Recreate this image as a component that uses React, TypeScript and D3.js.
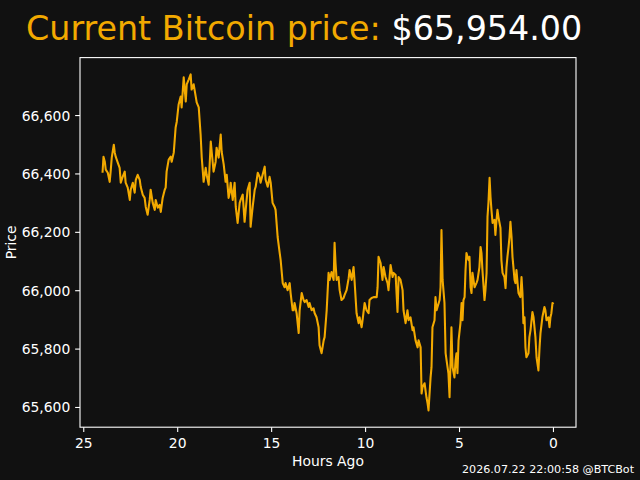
import React from "react";
import * as d3 from "d3";

// Price history over the last 24 hours (hours ago, USD)
const hoursAgo: number[] = [
  24.0, 23.95, 23.88, 23.83, 23.72, 23.62, 23.56, 23.51, 23.4, 23.35,
  23.3, 23.19, 23.09, 23.03, 22.93, 22.82, 22.77, 22.66, 22.55, 22.5,
  22.39, 22.29, 22.23, 22.13, 22.02, 21.97, 21.86, 21.76, 21.7, 21.6,
  21.49, 21.44, 21.33, 21.22, 21.17, 21.06, 20.96, 20.9, 20.8, 20.69,
  20.64, 20.59, 20.48, 20.37, 20.32, 20.21, 20.11, 20.05, 19.95, 19.84,
  19.79, 19.68, 19.57, 19.52, 19.41, 19.31, 19.26, 19.15, 19.04, 18.99,
  18.88, 18.78, 18.72, 18.62, 18.51, 18.46, 18.35, 18.24, 18.19, 18.09,
  17.98, 17.93, 17.82, 17.71, 17.66, 17.55, 17.45, 17.39, 17.29,
  17.23, 17.18, 17.07, 16.97, 16.91, 16.81, 16.7, 16.65, 16.54, 16.44,
  16.38, 16.28, 16.17, 16.12, 16.01, 15.9, 15.85, 15.74, 15.64, 15.59,
  15.48, 15.37, 15.32, 15.21, 15.11, 15.05, 14.95, 14.84, 14.79, 14.68,
  14.57, 14.52, 14.41, 14.31, 14.26, 14.15, 14.04, 13.99, 13.88,
  13.83, 13.78, 13.67, 13.56, 13.51, 13.4, 13.3, 13.24, 13.14, 13.03,
  12.98, 12.87, 12.77, 12.71, 12.61, 12.5, 12.45, 12.34, 12.23, 12.18,
  12.07, 11.97, 11.91, 11.81, 11.7, 11.65, 11.6, 11.54, 11.44, 11.38,
  11.28, 11.17, 11.12, 11.01, 10.9, 10.85, 10.74, 10.64, 10.59,
  10.48, 10.37, 10.32, 10.21, 10.16, 10.05, 9.95, 9.84, 9.79, 9.68,
  9.57, 9.41, 9.36, 9.31, 9.2, 9.1, 9.04, 8.94, 8.83, 8.78,
  8.67, 8.56, 8.51, 8.4, 8.3, 8.24, 8.14, 8.03, 7.98, 7.87,
  7.77, 7.71, 7.61, 7.5, 7.45, 7.34, 7.23, 7.18,
  7.07, 7.02, 6.97, 6.86, 6.76, 6.7, 6.65, 6.54, 6.49, 6.44,
  6.33, 6.28, 6.22, 6.17, 6.06, 6.01, 5.96, 5.9, 5.8, 5.74,
  5.69, 5.59, 5.53, 5.48, 5.43, 5.37, 5.27, 5.21, 5.16, 5.11,
  5.05, 4.95, 4.89, 4.84, 4.79, 4.73, 4.68, 4.63, 4.52, 4.47,
  4.41, 4.36, 4.31, 4.2, 4.1, 4.04, 3.94, 3.88, 3.83, 3.78,
  3.67,
  3.62, 3.56, 3.51, 3.46, 3.4, 3.35, 3.3, 3.24, 3.14, 3.09,
  3.03, 2.98, 2.93, 2.82, 2.77, 2.71, 2.61, 2.55, 2.5, 2.45,
  2.39, 2.34, 2.29, 2.23, 2.18, 2.07, 2.02, 1.97, 1.91, 1.86,
  1.76, 1.7, 1.65, 1.6, 1.54, 1.49, 1.44, 1.33, 1.28, 1.22,
  1.12, 1.06, 0.96, 0.9, 0.8, 0.74, 0.69, 0.59, 0.48, 0.43,
  0.37, 0.27, 0.21, 0.16, 0.11, 0.05, 0.0,
];

const priceUsd: number[] = [
  66404, 66459, 66442, 66415, 66404, 66373, 66415, 66456, 66500, 66473,
  66459, 66439, 66421, 66370, 66390, 66408, 66370, 66353, 66311, 66346,
  66370, 66336, 66380, 66397, 66380, 66356, 66329, 66318, 66287, 66260,
  66311, 66346, 66301, 66277, 66311, 66284, 66294, 66270, 66318, 66346,
  66353, 66408, 66449, 66459, 66442, 66473, 66559, 66579, 66638, 66665,
  66628, 66731, 66648, 66707, 66724, 66741, 66689, 66707, 66665, 66645,
  66628, 66535, 66456, 66373, 66421, 66397, 66363, 66511, 66476, 66408,
  66442, 66490, 66456, 66535, 66476, 66432, 66373, 66397, 66318,
  66336, 66370, 66311, 66370, 66287, 66232, 66301, 66311, 66329, 66236,
  66277, 66346, 66370, 66219, 66287, 66346, 66356, 66404, 66390, 66370,
  66397, 66425, 66380, 66356, 66390, 66370, 66301, 66287, 66277, 66184,
  66129, 66105, 66026, 66012, 66026, 66002, 66026, 65992, 65933,
  65933, 65958, 65923, 65855, 65933, 65992, 65968, 65961, 65968, 65944,
  65958, 65933, 65940, 65923, 65909, 65875, 65813, 65786, 65830, 65841,
  65933, 66061, 66037, 66064, 66037, 66164, 66095, 66037, 66047, 66002,
  65968, 65975, 65985, 66002, 66043, 66071, 66037, 66081, 66037,
  65923, 65889, 65909, 65875, 65899, 65958, 65933, 65923, 65968, 65975,
  65978, 65978, 66012, 66116, 66095, 66037, 66081, 66047, 66026, 66002,
  66088, 66047, 66061, 66054, 65927, 66047, 66037, 66002, 65933, 65889,
  65933, 65899, 65909, 65865, 65875, 65830, 65806, 65830,
  65806, 65648, 65669, 65683, 65635, 65614, 65590, 65703, 65738, 65875,
  65899, 65978, 65933, 65944, 65968, 66012, 66208, 66037, 65958, 65786,
  65762, 65717, 65635, 65751, 65875, 65738, 65703, 65762, 65786, 65717,
  65830, 65889, 65958, 65899, 65968, 65978, 66071, 66129, 66105, 66116,
  66012, 65992, 66061, 66012, 66026, 66037, 66081, 66150, 66129, 66071,
  65968,
  66002, 66061, 66253, 66301, 66387, 66322, 66277, 66232, 66243, 66191,
  66243, 66277, 66253, 66215, 66105, 66061, 66047, 66009, 66081, 66116,
  66150, 66184, 66236, 66184, 66116, 66037, 66026, 66071, 66026, 65992,
  65978, 66047, 65992, 65889, 65909, 65806, 65772, 65786, 65841, 65865,
  65927, 65909, 65841, 65772, 65727, 65806, 65855, 65909, 65944, 65933,
  65899, 65909, 65875, 65909, 65923, 65958, 65954,
];

const xTicks: number[] = [25, 20, 15, 10, 5, 0];
const yTicks: number[] = [65600, 65800, 66000, 66200, 66400, 66600];

const titleLead = "Current Bitcoin price: ";
const footerText = "2026.07.22 22:00:58 @BTCBot";
const xLabel = "Hours Ago";
const yLabel = "Price";

const W = 640;
const H = 480;
const BG = "#111111";
const ORANGE = "#F2A900";
const FONT = "'DejaVu Sans', 'Liberation Sans', sans-serif";

export default function App() {
  const margin = { left: 80, right: 576, top: 57.6, bottom: 427.2 };

  const points = hoursAgo.map((h, i) => ({ h, p: priceUsd[i] }));

  // matplotlib-style 5% padding on both axes
  const [hMin, hMax] = d3.extent(hoursAgo) as [number, number];
  const hPad = (hMax - hMin) * 0.05;
  const [pMin, pMax] = d3.extent(priceUsd) as [number, number];
  const pPad = (pMax - pMin) * 0.05;

  const x = d3
    .scaleLinear()
    .domain([hMax + hPad, hMin - hPad])
    .range([margin.left, margin.right]);
  const y = d3
    .scaleLinear()
    .domain([pMin - pPad, pMax + pPad])
    .range([margin.bottom, margin.top]);

  const line = d3
    .line<{ h: number; p: number }>()
    .x((d) => x(d.h))
    .y((d) => y(d.p));

  const fmtTick = d3.format(",");
  const fmtPrice = d3.format(",.2f");
  const current = priceUsd[priceUsd.length - 1];

  const tickLen = 4.86;
  const tickPad = 4.86;

  return (
    <svg
      width={W}
      height={H}
      style={{ position: "absolute", left: 0, top: 0, display: "block" }}
      fontFamily={FONT}
    >
      <rect x={0} y={0} width={W} height={H} fill={BG} />

      <text x={26} y={40} fontSize={33.33}>
        <tspan fill={ORANGE} style={{ whiteSpace: "pre" }}>
          {titleLead}
        </tspan>
        <tspan fill="#ffffff">{"$" + fmtPrice(current)}</tspan>
      </text>

      <clipPath id="plot-area">
        <rect
          x={margin.left}
          y={margin.top}
          width={margin.right - margin.left}
          height={margin.bottom - margin.top}
        />
      </clipPath>

      <path
        d={line(points) || ""}
        fill="none"
        stroke={ORANGE}
        strokeWidth={2.08}
        strokeLinejoin="round"
        strokeLinecap="butt"
        clipPath="url(#plot-area)"
      />

      <rect
        x={margin.left}
        y={margin.top}
        width={margin.right - margin.left}
        height={margin.bottom - margin.top}
        fill="none"
        stroke="#ffffff"
        strokeWidth={1.1}
      />

      {xTicks.map((t) => (
        <g key={"x" + t}>
          <line
            x1={x(t)}
            x2={x(t)}
            y1={margin.bottom}
            y2={margin.bottom + tickLen}
            stroke="#ffffff"
            strokeWidth={1.1}
          />
          <text
            x={x(t)}
            y={margin.bottom + tickLen + tickPad + 10.6}
            fill="#ffffff"
            fontSize={13.89}
            textAnchor="middle"
          >
            {t}
          </text>
        </g>
      ))}

      {yTicks.map((t) => (
        <g key={"y" + t}>
          <line
            x1={margin.left - tickLen}
            x2={margin.left}
            y1={y(t)}
            y2={y(t)}
            stroke="#ffffff"
            strokeWidth={1.1}
          />
          <text
            x={margin.left - tickLen - tickPad}
            y={y(t) + 5}
            fill="#ffffff"
            fontSize={13.89}
            textAnchor="end"
          >
            {fmtTick(t)}
          </text>
        </g>
      ))}

      <text
        x={(margin.left + margin.right) / 2}
        y={466}
        fill="#ffffff"
        fontSize={13.89}
        textAnchor="middle"
      >
        {xLabel}
      </text>

      <text
        transform={`translate(15.5, ${(margin.top + margin.bottom) / 2}) rotate(-90)`}
        fill="#ffffff"
        fontSize={13.89}
        textAnchor="middle"
      >
        {yLabel}
      </text>

      <text x={634} y={472.5} fill="#ffffff" fontSize={11.11} textAnchor="end">
        {footerText}
      </text>
    </svg>
  );
}
